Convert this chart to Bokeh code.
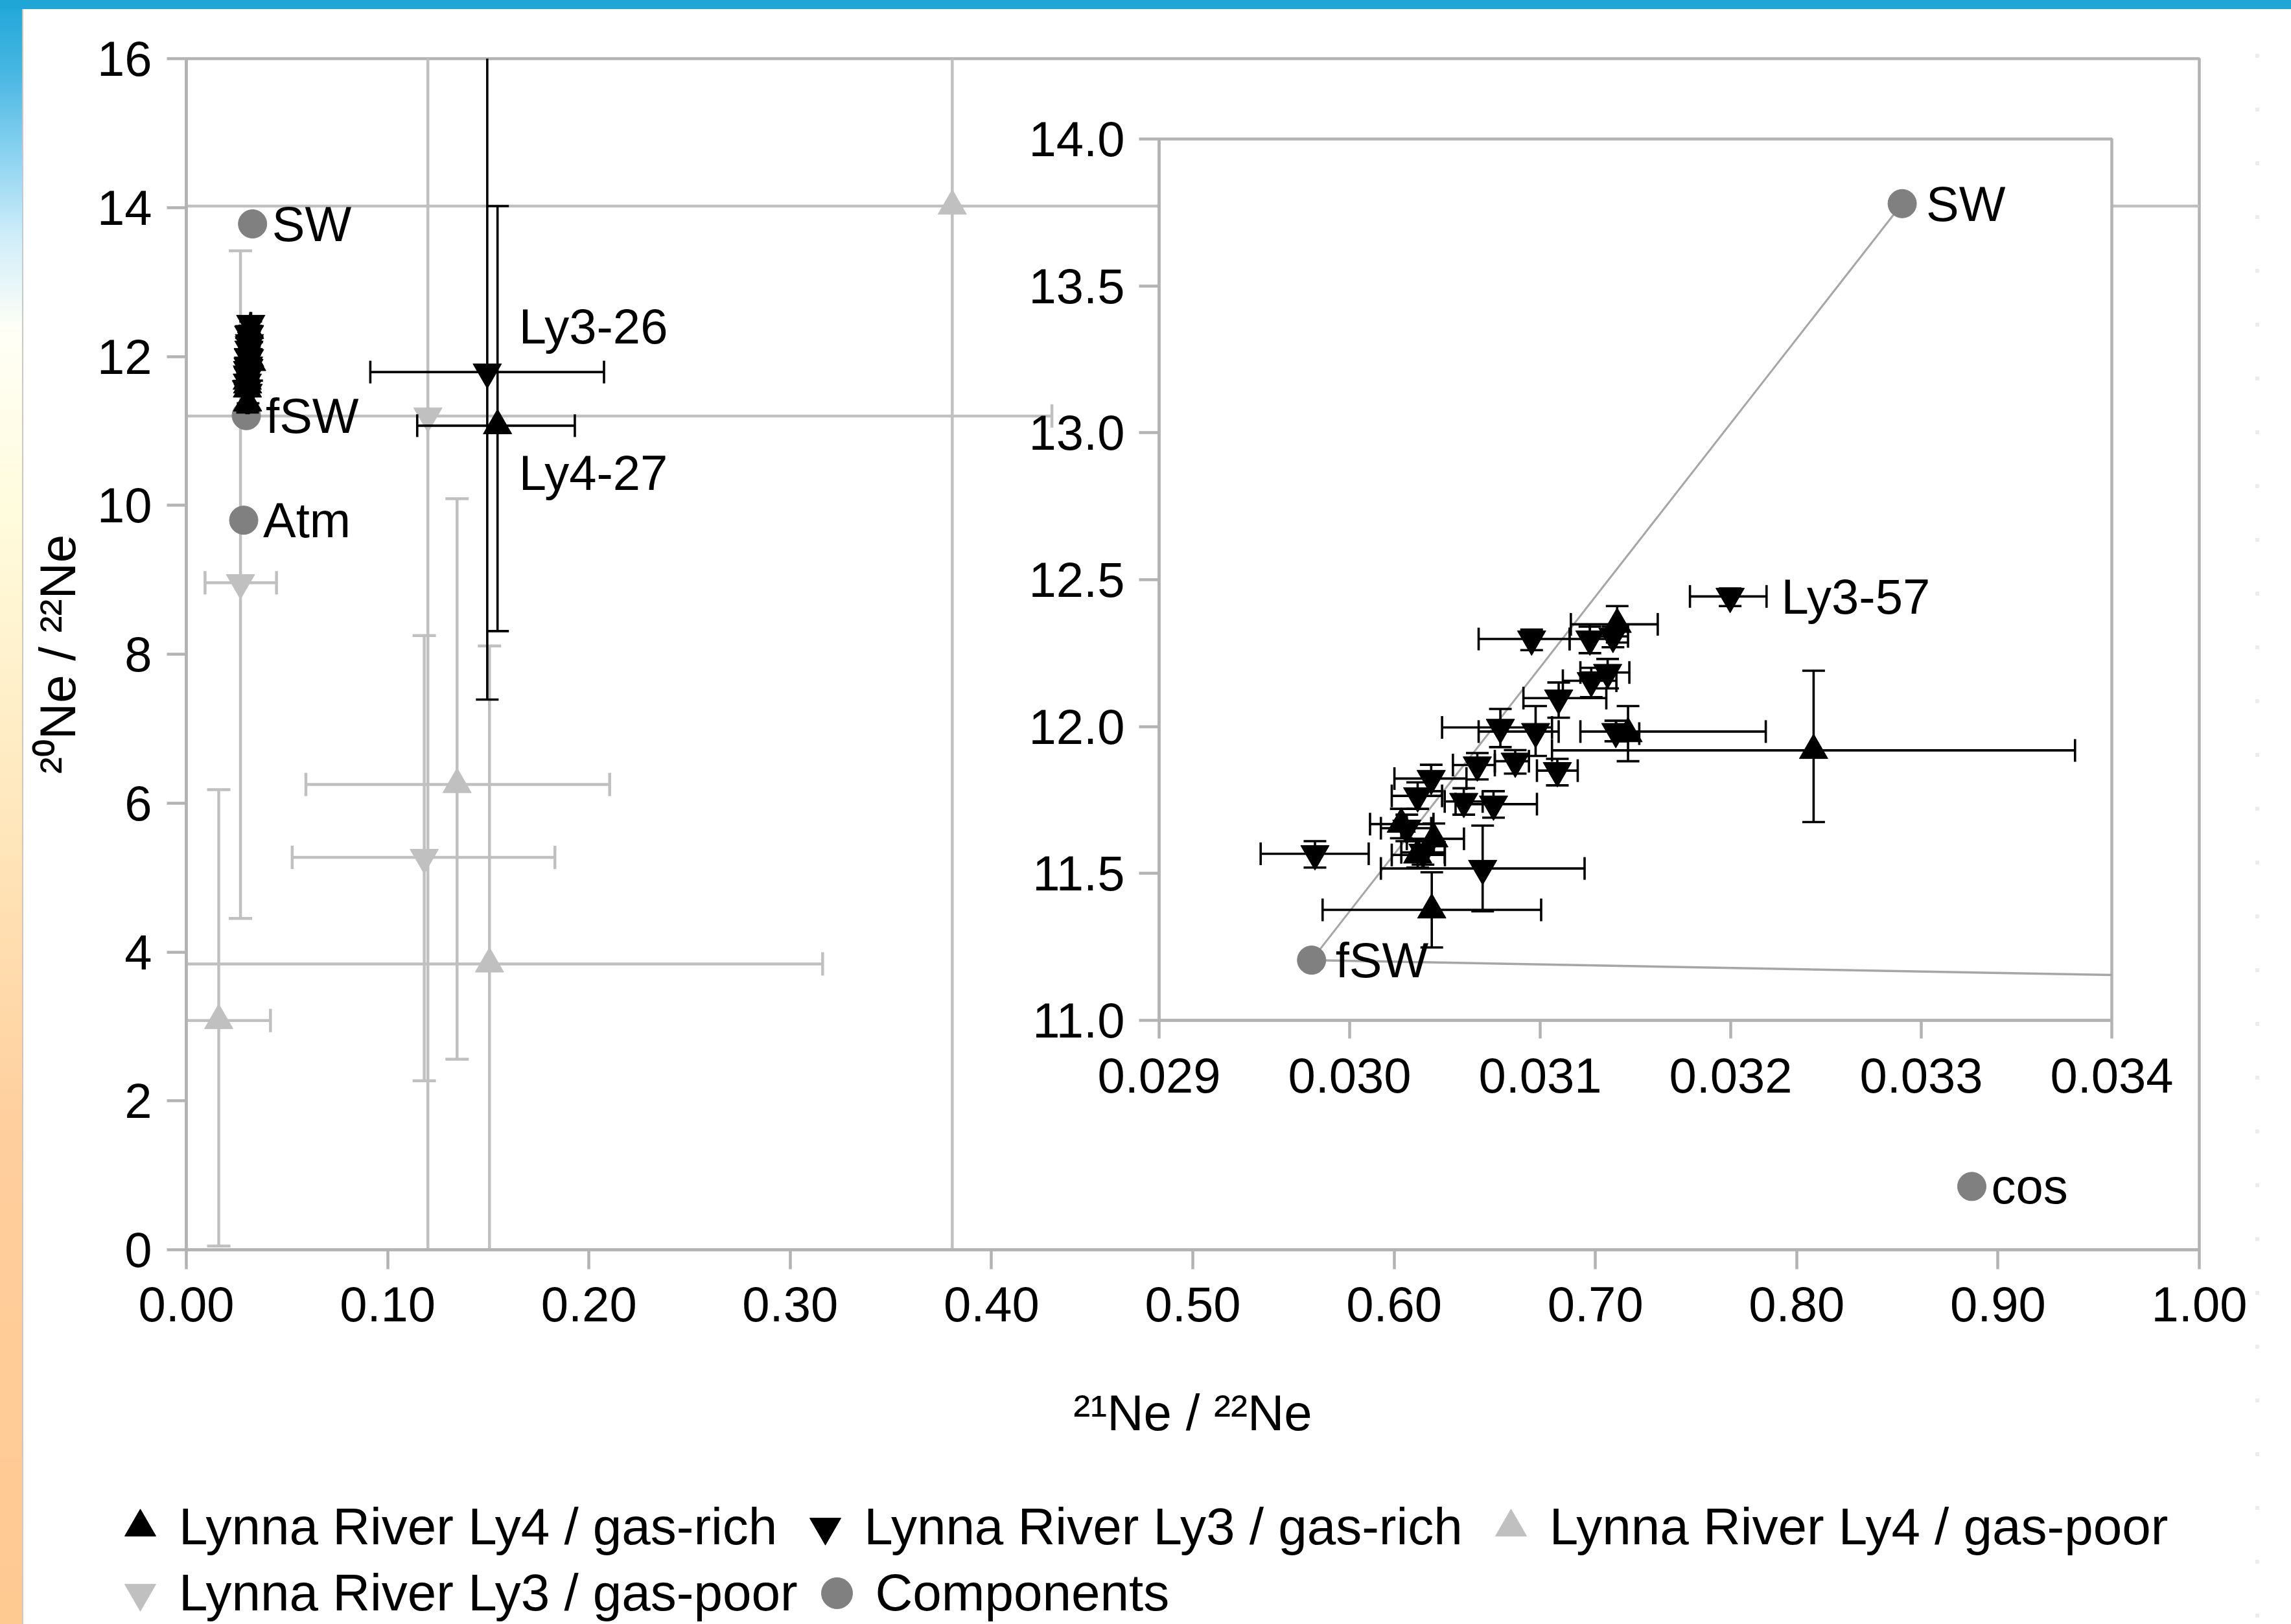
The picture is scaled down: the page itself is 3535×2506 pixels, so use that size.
import numpy as np
from bokeh.plotting import figure
from bokeh.models import (ColumnDataSource, Range1d, FixedTicker, PrintfTickFormatter,
                          Legend, LegendItem)
from bokeh.embed import file_html
from bokeh.resources import INLINE
from bokeh.core.properties import value

# ---------------- data ----------------
# Lynna River Ly4 / gas-rich : point, and error-bar ends
ly4_rich_x   = [0.1546, 0.030431, 0.031404, 0.031461, 0.032435, 0.030271, 0.030442, 0.030357]
ly4_rich_y   = [11.07, 11.376, 12.348, 11.976, 11.919, 11.668, 11.618, 11.563]
ly4_rich_xlo = [0.1147, 0.029858, 0.031161, 0.031400, 0.031062, 0.030107, 0.030300, 0.030221]
ly4_rich_xhi = [0.1930, 0.031005, 0.031617, 0.031520, 0.033807, 0.030440, 0.030600, 0.030500]
ly4_rich_ylo = [8.31, 11.248, 12.286, 11.882, 11.675, 11.620, 11.570, 11.520]
ly4_rich_yhi = [14.02, 11.504, 12.410, 12.070, 12.190, 11.720, 11.670, 11.610]

# Lynna River Ly3 / gas-rich (first = Ly3-26, last = Ly3-57)
ly3_rich_x   = [0.1495, 0.029818, 0.030698, 0.030955, 0.031261, 0.031382, 0.031354, 0.031268,
                0.031097, 0.030791, 0.030976, 0.031397, 0.030670, 0.030869, 0.031090, 0.030428,
                0.030755, 0.030599, 0.030357, 0.030300, 0.030385, 0.031997]
ly3_rich_y   = [11.79, 11.567, 11.517, 12.298, 12.298, 12.307, 12.184, 12.156,
                12.097, 11.997, 11.983, 11.983, 11.869, 11.882, 11.850, 11.823,
                11.736, 11.745, 11.764, 11.654, 11.572, 12.443]
ly3_rich_xlo = [0.0914, 0.029533, 0.030164, 0.030677, 0.031154, 0.031261, 0.031211, 0.031119,
                0.030912, 0.030485, 0.030677, 0.031211, 0.030542, 0.030762, 0.030983, 0.030235,
                0.030556, 0.030499, 0.030221, 0.030164, 0.030271, 0.031786]
ly3_rich_xhi = [0.2075, 0.030100, 0.031233, 0.031154, 0.031382, 0.031461, 0.031468, 0.031400,
                0.031347, 0.031062, 0.031097, 0.032184, 0.030762, 0.030941, 0.031197, 0.030613,
                0.030983, 0.030698, 0.030485, 0.030428, 0.030499, 0.032188]
ly3_rich_ylo = [7.39, 11.52, 11.371, 12.26, 12.25, 12.27, 12.13, 12.10,
                12.03, 11.93, 11.90, 11.95, 11.82, 11.84, 11.80, 11.78,
                11.69, 11.70, 11.72, 11.61, 11.53, 12.41]
ly3_rich_yhi = [17.0, 11.61, 11.663, 12.33, 12.34, 12.34, 12.23, 12.20,
                12.15, 12.06, 12.07, 12.02, 11.91, 11.92, 11.89, 11.87,
                11.78, 11.79, 11.81, 11.70, 11.61, 12.47]

# Lynna River Ly4 / gas-poor
ly4_poor_x   = [0.3805, 0.1345, 0.1506, 0.0161]
ly4_poor_y   = [14.02, 6.25, 3.84, 3.08]
ly4_poor_xlo = [-0.2, 0.0594, -0.02, -0.01]
ly4_poor_xhi = [1.2, 0.2103, 0.3161, 0.0418]
ly4_poor_ylo = [-2.0, 2.56, -0.5, 0.05]
ly4_poor_yhi = [30.0, 10.09, 8.11, 6.18]

# Lynna River Ly3 / gas-poor
ly3_poor_x   = [0.1200, 0.1182, 0.0269]
ly3_poor_y   = [11.20, 5.27, 8.96]
ly3_poor_xlo = [-0.2, 0.0526, 0.0093]
ly3_poor_xhi = [0.43, 0.1831, 0.0448]
ly3_poor_ylo = [-2.0, 2.27, 4.45]
ly3_poor_yhi = [25.0, 8.25, 13.42]

# Components
comp_names = ["SW", "fSW", "Atm", "cos"]
comp_x = [0.0329, 0.0298, 0.0285, 0.887]
comp_y = [13.78, 11.205, 9.80, 0.85]

# Labelled samples
note_names = ["Ly3-26", "Ly4-27", "Ly3-57"]
note_x = [ly3_rich_x[0], ly4_rich_x[0], ly3_rich_x[-1]]
note_y = [ly3_rich_y[0], ly4_rich_y[0], ly3_rich_y[-1]]

legend_labels = ["Lynna River Ly4 / gas-rich", "Lynna River Ly3 / gas-rich",
                 "Lynna River Ly4 / gas-poor", "Lynna River Ly3 / gas-poor", "Components"]

main_x_ticks = [0.0, 0.1, 0.2, 0.3, 0.4, 0.5, 0.6, 0.7, 0.8, 0.9, 1.0]
main_y_ticks = [0, 2, 4, 6, 8, 10, 12, 14, 16]
inset_x_range = (0.029, 0.034)
inset_y_range = (11.0, 14.0)
inset_x_ticks = [0.029, 0.030, 0.031, 0.032, 0.033, 0.034]
inset_y_ticks = [11.0, 11.5, 12.0, 12.5, 13.0, 13.5, 14.0]

# ---------------- style ----------------
FONT = "Liberation Sans"
BLACK = "#000000"
LIGHT = "#C0C0C0"
COMP = "#808080"
AXIS = "#B3B3B3"
LINE = "#A6A6A6"


def style_axis(ax, ticks, fmt, tick_out, standoff):
    ax.ticker = FixedTicker(ticks=ticks)
    ax.formatter = PrintfTickFormatter(format=fmt)
    ax.axis_line_color = AXIS
    ax.axis_line_width = 4.5
    ax.major_tick_line_color = AXIS
    ax.major_tick_line_width = 4.5
    ax.major_tick_out = tick_out
    ax.major_tick_in = 0
    ax.minor_tick_line_color = None
    ax.major_label_text_font = FONT
    ax.major_label_text_font_size = "76px"
    ax.major_label_text_color = "black"
    ax.major_label_standoff = standoff


def draw_series(p, xs, ys, xlo, xhi, ylo, yhi, marker, color, lw, cap, size=44, bars=True):
    src = ColumnDataSource(dict(x=xs, y=ys, xlo=xlo, xhi=xhi, ylo=ylo, yhi=yhi))
    if bars:
        kw = dict(source=src, line_color=color, line_width=lw)
        p.segment(x0="xlo", y0="y", x1="xhi", y1="y", **kw)
        p.segment(x0="x", y0="ylo", x1="x", y1="yhi", **kw)
        for cx, cy, ang in (("xlo", "y", np.pi / 2), ("xhi", "y", np.pi / 2),
                            ("x", "ylo", 0.0), ("x", "yhi", 0.0)):
            p.scatter(x=cx, y=cy, marker="dash", angle=ang, size=cap, **kw)
    return p.scatter(x="x", y="y", marker=marker, size=size, fill_color=color,
                     line_color=color, source=src)


def draw_components(p, offset, xr=None, yr=None, labels=True):
    src = ColumnDataSource(dict(x=comp_x, y=comp_y))
    r = p.scatter(x="x", y="y", marker="circle", size=44, fill_color=COMP,
                  line_color=COMP, source=src)
    if labels:
        keep = [i for i in range(len(comp_names))
                if (xr is None or xr[0] <= comp_x[i] <= xr[1])
                and (yr is None or yr[0] <= comp_y[i] <= yr[1])]
        lab = ColumnDataSource(dict(x=[comp_x[i] for i in keep], y=[comp_y[i] for i in keep],
                                    name=[comp_names[i] for i in keep]))
        p.text(x="x", y="y", text="name", x_offset=offset, text_baseline="middle",
               text_align="left", text_font=value(FONT), text_font_size="76px",
               text_color="black", source=lab)
    return r


# ---------------- page decoration (slide frame, behind the main chart) ----------------
bg = ", ".join([
    "linear-gradient(#1FA6D7, #1FA6D7) 0 0 / 100% 14px no-repeat",
    "linear-gradient(#C8C8C8, #C8C8C8) 34px 0 / 2px 100% no-repeat",
    "linear-gradient(to bottom, #1FA6D7 0px, #47B6E2 110px, #8CD3F0 240px, #D2EEF9 370px, "
    "#FFFFF6 510px, #FFFBDC 800px, #FFE6BB 1280px, #FFCE9C 1750px, #FFC992 2506px) "
    "0 0 / 34px 100% no-repeat",
    "repeating-linear-gradient(to bottom, #ECECEC 0px, #ECECEC 6px, transparent 6px, "
    "transparent 83px) 3480px 0 / 6px 100% no-repeat",
    "#FFFFFF",
])

# ---------------- main chart (page has no margin: canvas = window) ----------------
W, H = 3535, 2506
F_LEFT, F_RIGHT, F_TOP, F_BOTTOM = 287, 3393, 90, 1928
main = figure(width=W, height=H, x_range=Range1d(0, 1), y_range=Range1d(0, 16),
              output_backend="svg", toolbar_location=None,
              min_border_left=F_LEFT, min_border_right=W - F_RIGHT, min_border_top=F_TOP,
              min_border_bottom=H - F_BOTTOM, styles={"background": bg})
main.border_fill_alpha = 0
main.background_fill_color = "white"
main.outline_line_color = AXIS
main.outline_line_width = 4.5
main.grid.visible = False

style_axis(main.xaxis[0], main_x_ticks, "%.2f", 30, 27)
style_axis(main.yaxis[0], main_y_ticks, "%d", 30, 23)
main.xaxis.axis_label = "\u00b2\u00b9Ne / \u00b2\u00b2Ne"
main.yaxis.axis_label = "\u00b2\u2070Ne / \u00b2\u00b2Ne"
for ax, so in ((main.xaxis[0], 94), (main.yaxis[0], 14)):
    ax.axis_label_text_font = FONT
    ax.axis_label_text_font_size = "78px"
    ax.axis_label_text_font_style = "normal"
    ax.axis_label_text_color = "black"
    ax.axis_label_standoff = so

draw_series(main, ly4_poor_x, ly4_poor_y, ly4_poor_xlo, ly4_poor_xhi,
            ly4_poor_ylo, ly4_poor_yhi, "triangle", LIGHT, 4.5, 36)
draw_series(main, ly3_poor_x, ly3_poor_y, ly3_poor_xlo, ly3_poor_xhi,
            ly3_poor_ylo, ly3_poor_yhi, "inverted_triangle", LIGHT, 4.5, 36)
draw_components(main, 30)
draw_series(main, ly4_rich_x, ly4_rich_y, ly4_rich_xlo, ly4_rich_xhi,
            ly4_rich_ylo, ly4_rich_yhi, "triangle", BLACK, 3.6, 35)
draw_series(main, ly3_rich_x, ly3_rich_y, ly3_rich_xlo, ly3_rich_xhi,
            ly3_rich_ylo, ly3_rich_yhi, "inverted_triangle", BLACK, 3.6, 35)

# sample labels (main shows the first two, the inset the third)
note_dx = [49, 33, 79]
note_dy = [-71, 73, 0]
main_notes = ColumnDataSource(dict(x=note_x[:2], y=note_y[:2], t=note_names[:2],
                                   dx=note_dx[:2], dy=note_dy[:2]))
main.text(x="x", y="y", text="t", x_offset="dx", y_offset="dy", text_baseline="middle",
          text_font=value(FONT), text_font_size="76px", text_color="black", source=main_notes)

# ---------------- inset chart (placed over the main chart) ----------------
I_LEFT, I_TOP, IB_L, IB_R, IB_T, IB_B = 1544, 151, 244, 121, 63, 165
inset = figure(width=3258 + IB_R - I_LEFT, height=1574 + IB_B - I_TOP,
               x_range=Range1d(*inset_x_range), y_range=Range1d(*inset_y_range),
               output_backend="svg", toolbar_location=None,
               min_border_left=IB_L, min_border_right=IB_R, min_border_top=IB_T,
               min_border_bottom=IB_B,
               styles={"position": "absolute", "left": f"{I_LEFT}px", "top": f"{I_TOP}px",
                       "z-index": "5"})
inset.border_fill_alpha = 0
inset.background_fill_color = "white"
inset.outline_line_color = AXIS
inset.outline_line_width = 4.5
inset.grid.visible = False
style_axis(inset.xaxis[0], inset_x_ticks, "%.3f", 28, 30)
style_axis(inset.yaxis[0], inset_y_ticks, "%.1f", 31, 22)

# mixing lines SW - fSW - cos
inset.line(x=[comp_x[0], comp_x[1]], y=[comp_y[0], comp_y[1]], line_color=LINE, line_width=3)
inset.line(x=[comp_x[1], comp_x[3]], y=[comp_y[1], comp_y[3]], line_color=LINE, line_width=3.5)
draw_components(inset, 37, inset_x_range, inset_y_range)
draw_series(inset, ly4_rich_x, ly4_rich_y, ly4_rich_xlo, ly4_rich_xhi,
            ly4_rich_ylo, ly4_rich_yhi, "triangle", BLACK, 3.6, 35)
draw_series(inset, ly3_rich_x, ly3_rich_y, ly3_rich_xlo, ly3_rich_xhi,
            ly3_rich_ylo, ly3_rich_yhi, "inverted_triangle", BLACK, 3.6, 35)
inset_notes = ColumnDataSource(dict(x=note_x[2:], y=note_y[2:], t=note_names[2:],
                                    dx=note_dx[2:], dy=note_dy[2:]))
inset.text(x="x", y="y", text="t", x_offset="dx", y_offset="dy", text_baseline="middle",
           text_font=value(FONT), text_font_size="76px", text_color="black", source=inset_notes)

# ---------------- legend strip at the bottom of the page ----------------
L_TOP = 2230
legfig = figure(width=W, height=H - L_TOP, x_range=Range1d(0, 1), y_range=Range1d(-2, -1),
                output_backend="svg", toolbar_location=None,
                x_axis_location=None, y_axis_location=None,
                min_border=0, min_border_left=0, min_border_right=0, min_border_top=0,
                min_border_bottom=0,
                styles={"position": "absolute", "left": "0px", "top": f"{L_TOP}px",
                        "z-index": "6"})
legfig.border_fill_alpha = 0
legfig.background_fill_alpha = 0
legfig.outline_line_color = None
legfig.grid.visible = False
# the series' markers (their values fall outside this strip's ranges, so only the legend shows)
g_l4r = draw_series(legfig, ly4_rich_x, ly4_rich_y, ly4_rich_xlo, ly4_rich_xhi,
                    ly4_rich_ylo, ly4_rich_yhi, "triangle", BLACK, 3.6, 35, bars=False)
g_l3r = draw_series(legfig, ly3_rich_x, ly3_rich_y, ly3_rich_xlo, ly3_rich_xhi,
                    ly3_rich_ylo, ly3_rich_yhi, "inverted_triangle", BLACK, 3.6, 35, bars=False)
g_l4p = draw_series(legfig, ly4_poor_x, ly4_poor_y, ly4_poor_xlo, ly4_poor_xhi,
                    ly4_poor_ylo, ly4_poor_yhi, "triangle", LIGHT, 4.5, 36, bars=False)
g_l3p = draw_series(legfig, ly3_poor_x, ly3_poor_y, ly3_poor_xlo, ly3_poor_xhi,
                    ly3_poor_ylo, ly3_poor_yhi, "inverted_triangle", LIGHT, 4.5, 36, bars=False)
g_comp = draw_components(legfig, 30, labels=False)
rends = [g_l4r, g_l3r, g_l4p, g_l3p, g_comp]
common = dict(orientation="horizontal", glyph_width=120, glyph_height=120,
              label_standoff=0, padding=0, margin=0, background_fill_alpha=0,
              border_line_alpha=0, label_text_font=FONT, label_text_font_size="80px",
              label_text_color="black")
leg1 = Legend(items=[LegendItem(label=legend_labels[i], renderers=[rends[i]]) for i in range(3)],
              location=(156, 90), spacing=14, **common)
leg2 = Legend(items=[LegendItem(label=legend_labels[i], renderers=[rends[i]]) for i in range(3, 5)],
              location=(156, -12), spacing=0, **common)
legfig.add_layout(leg1, "center")
legfig.add_layout(leg2, "center")

open("out.html", "w").write(file_html([main, inset, legfig], INLINE))
